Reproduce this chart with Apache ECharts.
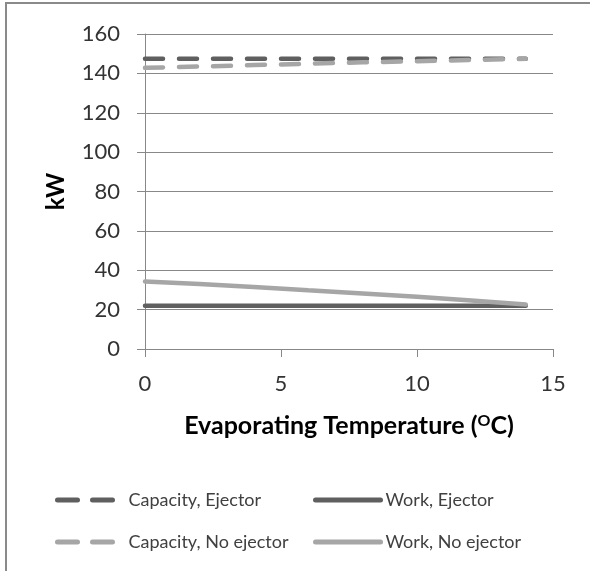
<!DOCTYPE html>
<html>
<head>
<meta charset="utf-8">
<script src="https://cdn.jsdelivr.net/npm/echarts@6/dist/echarts.min.js"></script>
<style>
  html, body { margin: 0; padding: 0; background: #fff; }
  #main { width: 590px; height: 571px; position: relative; }
  #frame { position: absolute; left: 5px; top: 2px; width: 600px; height: 600px;
           border-top: 2px solid #8a8a8a; border-left: 2px solid #8a8a8a; pointer-events: none; }
</style>
</head>
<body>
<div id="main"></div>
<div id="frame"></div>
<script>
// evaporating temperature (°C)
var temps = [0, 2, 4, 6, 8, 10, 12, 14];
var capacityEjector = [147.4, 147.4, 147.4, 147.4, 147.4, 147.4, 147.4, 147.4];
var capacityNoEjector = [142.8, 143.5, 144.2, 144.9, 145.6, 146.2, 146.8, 147.4];
var workEjector = [22, 22, 22, 22, 22, 22, 22, 22];
var workNoEjector = [34.3, 33, 31.5, 29.8, 28.2, 26.5, 24.6, 22.6];

var dark = '#5f5f5f';
var light = '#a6a6a6';
var font = 'Lato';

function pairs(vals) {
    return temps.map(function (t, i) { return [t, vals[i]]; });
}

var myChart = echarts.init(document.getElementById('main'));

function legendAt(name, left, top, w, pad, dashed) {
    return {
        data: [name], left: left, top: top,
        itemWidth: w, itemHeight: 14,
        itemStyle: { opacity: 0 },
        lineStyle: { width: 5, type: dashed ? [20, 15] : 'solid' },
        textStyle: { fontFamily: font, fontSize: 18, color: '#404040', padding: [0, 0, 0, pad] }
    };
}

var option = {
    animation: false,
    grid: { left: 145, right: 37, top: 34, bottom: 222 },
    legend: [
        legendAt('Capacity, Ejector', 50, 486, 55, 11, true),
        legendAt('Work, Ejector', 308, 486, 65, 0, false),
        legendAt('Capacity, No ejector', 50, 528, 55, 11, true),
        legendAt('Work, No ejector', 308, 528, 65, 0, false)
    ],
    xAxis: {
        type: 'value', min: 0, max: 15, interval: 5,
        name: '{b|Evaporating Temperature (}{s|O}{b|C)}',
        nameLocation: 'middle', nameGap: 64,
        nameTextStyle: {
            rich: {
                b: { fontFamily: font, fontSize: 25, fontWeight: 'bold', color: '#000' },
                s: { fontFamily: font, fontSize: 16, fontWeight: 'bold', color: '#000', verticalAlign: 'top', padding: [0, 0, 10, 0] }
            }
        },
        axisLine: { lineStyle: { color: '#888', width: 1 } },
        axisTick: { show: true, length: 8, lineStyle: { color: '#888' } },
        axisLabel: { fontFamily: font, fontSize: 22, color: '#333', margin: 24 },
        splitLine: { show: false }
    },
    yAxis: {
        type: 'value', min: 0, max: 160, interval: 20,
        name: 'kW', nameLocation: 'middle', nameGap: 77, nameRotate: 90,
        nameTextStyle: { fontFamily: font, fontSize: 24, fontWeight: 'bold', color: '#000' },
        axisLine: { show: true, lineStyle: { color: '#888', width: 1 } },
        axisTick: { show: true, length: 8, lineStyle: { color: '#888' } },
        axisLabel: { fontFamily: font, fontSize: 22, color: '#333', margin: 25 },
        splitLine: { lineStyle: { color: '#888', width: 1 } }
    },
    series: [
        {
            name: 'Capacity, Ejector', type: 'line', data: pairs(capacityEjector),
            showSymbol: false, symbol: 'none', color: dark,
            lineStyle: { width: 4.5, type: [18, 16], cap: 'round', color: dark }
        },
        {
            name: 'Capacity, No ejector', type: 'line', data: pairs(capacityNoEjector),
            showSymbol: false, symbol: 'none', color: light,
            lineStyle: { width: 4.5, type: [18, 16], cap: 'round', color: light }
        },
        {
            name: 'Work, Ejector', type: 'line', data: pairs(workEjector),
            showSymbol: false, symbol: 'none', color: dark,
            lineStyle: { width: 4.5, cap: 'round', color: dark }
        },
        {
            name: 'Work, No ejector', type: 'line', data: pairs(workNoEjector),
            showSymbol: false, symbol: 'none', color: light,
            lineStyle: { width: 4.5, cap: 'round', color: light }
        }
    ]
};

myChart.setOption(option);
</script>
</body>
</html>
